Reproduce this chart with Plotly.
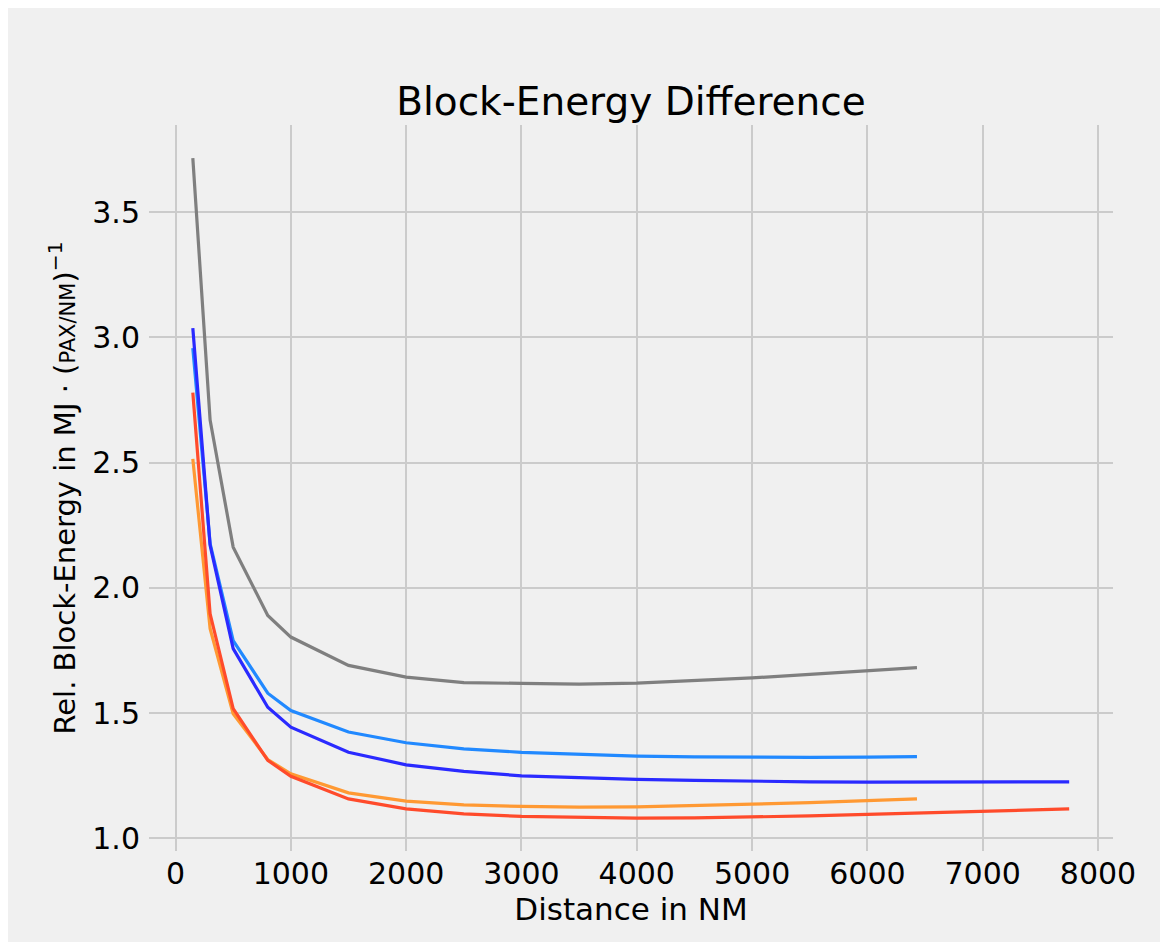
import plotly.graph_objects as go

# distances (NM) flown by each configuration
dist_short = [150, 300, 500, 800, 1000, 1500, 2000, 2500, 3000, 3500, 4000, 4500, 5000, 5500, 6000, 6430]
dist_long = [150, 300, 500, 800, 1000, 1500, 2000, 2500, 3000, 3500, 4000, 4500, 5000, 5500, 6000, 6500, 7000, 7750]

gray_vals = [3.716, 2.67, 2.163, 1.89, 1.804, 1.691, 1.644, 1.622, 1.619, 1.616, 1.62, 1.63, 1.641, 1.655, 1.668, 1.682]
lightblue_vals = [2.957, 2.177, 1.79, 1.58, 1.511, 1.425, 1.382, 1.358, 1.344, 1.336, 1.329, 1.326, 1.324, 1.324, 1.325, 1.327]
blue_vals = [3.037, 2.17, 1.758, 1.524, 1.444, 1.344, 1.294, 1.268, 1.25, 1.242, 1.236, 1.232, 1.228, 1.226, 1.225, 1.225, 1.225, 1.226]
orange_vals = [2.515, 1.837, 1.498, 1.315, 1.258, 1.182, 1.149, 1.134, 1.128, 1.125, 1.126, 1.13, 1.137, 1.143, 1.15, 1.158]
red_vals = [2.78, 1.897, 1.518, 1.312, 1.248, 1.158, 1.118, 1.098, 1.088, 1.083, 1.081, 1.082, 1.085, 1.09, 1.096, 1.102, 1.108, 1.118]

series = [
    (dist_short, gray_vals, "#7f7f7f"),
    (dist_short, lightblue_vals, "#2189ff"),
    (dist_long, blue_vals, "#2a2aff"),
    (dist_short, orange_vals, "#ff9933"),
    (dist_long, red_vals, "#ff4b2b"),
]

FONT = "DejaVu Sans"
BG = "#f0f0f0"
GRID = "#cbcbcb"

fig = go.Figure()
for x, y, color in series:
    fig.add_trace(go.Scatter(x=x, y=y, mode="lines", line=dict(color=color, width=3.2), showlegend=False))

# page body adds an 8px offset, so margins are trimmed by that amount
L, T = 141, 117
pw, ph = 964, 726
W, H = 1168, 942
R, B = W - L - pw, H - T - ph

fig.update_layout(
    width=W,
    height=H,
    paper_bgcolor=BG,
    plot_bgcolor=BG,
    margin=dict(l=L, r=R, t=T, b=B),
    font=dict(family=FONT, color="#000000", size=30),
    title=dict(
        text="Block-Energy Difference",
        x=(L + pw / 2) / W,
        xanchor="center",
        y=1 - 93 / H,
        yanchor="middle",
        font=dict(size=39, family=FONT),
    ),
)

fig.update_xaxes(
    range=[-230, 8130],
    tickvals=[0, 1000, 2000, 3000, 4000, 5000, 6000, 7000, 8000],
    showgrid=True, gridcolor=GRID, gridwidth=2,
    zeroline=False, showline=False,
    ticks="", ticklabelstandoff=2,
    title=dict(text="Distance in NM", font=dict(size=31), standoff=0),
)
fig.update_yaxes(
    range=[0.95, 3.848],
    tickvals=[1.0, 1.5, 2.0, 2.5, 3.0, 3.5],
    tickformat=".1f",
    showgrid=True, gridcolor=GRID, gridwidth=2,
    zeroline=False, showline=False,
    ticks="", ticklabelstandoff=8,
    title=dict(
        text="Rel. Block-Energy in MJ · (<span style='font-size:21px'>PAX/NM</span>)<sup>−1</sup>",
        font=dict(size=29),
        standoff=8,
    ),
)

fig.write_html("out.html")
